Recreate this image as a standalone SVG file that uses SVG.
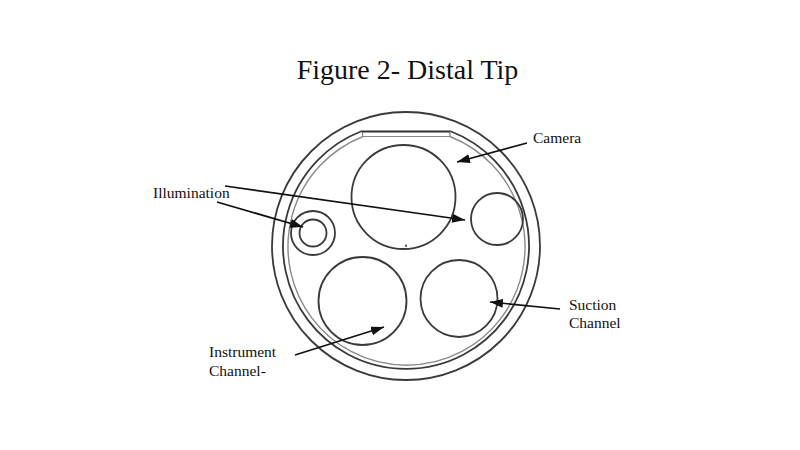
<svg xmlns="http://www.w3.org/2000/svg" width="800" height="450" viewBox="0 0 800 450">
<style>
.l{fill:none;stroke:#3a3a3a;stroke-width:1.800}
.c{stroke:#111;stroke-width:1.700;fill:none;marker-end:url(#a)}
text{font-family:"Liberation Serif",serif;fill:#111;font-size:15.500px}
</style>
<defs>
<marker id="a" markerUnits="userSpaceOnUse" markerWidth="14" markerHeight="10" refX="13" refY="4.500" orient="auto"><path d="M0 0L13 4.500L0 9Z" fill="#111"/></marker>
</defs>
<rect width="800" height="450" fill="#fff"/>
<text x="407.500" y="79" text-anchor="middle" style="font-size:28px">Figure 2- Distal Tip</text>
<g id="tip">
<circle class="l" cx="406" cy="246" r="134"/>
<path class="l" d="M362 131A123 123 0 1 0 450 131"/>
<path d="M363 136.500A118.500 118.500 0 1 0 450 136.500" fill="none" stroke="#8a8a8a" stroke-width="1.400"/>
<path d="M362.500 131.500H450V136.500H362.500Z" fill="none" stroke="#888" stroke-width="1.200"/>
<path d="M362 131.500H450" fill="none" stroke="#333" stroke-width="2"/>
</g>
<g id="camera"><circle class="l" cx="403.500" cy="197" r="52"/><path d="M406 244.500V247" stroke="#333" stroke-width="1.500"/></g>
<g id="right-lens"><circle class="l" cx="497" cy="219" r="26"/></g>
<g id="illumination-port"><circle class="l" cx="313" cy="233" r="22"/><circle class="l" cx="313" cy="233" r="13.500"/></g>
<g id="instrument-channel"><circle class="l" cx="362.500" cy="301" r="44"/></g>
<g id="suction-channel"><circle class="l" cx="459" cy="298.500" r="38.500"/></g>
<g id="connectors">
<path class="c" d="M527 143L457 162"/>
<path class="c" d="M225 186L465 220"/>
<path class="c" d="M217 202L303 227"/>
<path class="c" d="M560 309L490 302"/>
<path class="c" d="M295 355L384 327"/>
</g>
<g id="labels">
<text x="533" y="143">Camera</text>
<text x="153" y="198">Illumination</text>
<text x="569" y="310">Suction</text>
<text x="569" y="328">Channel</text>
<text x="209" y="357">Instrument</text>
<text x="209" y="376">Channel-</text>
</g>
</svg>
